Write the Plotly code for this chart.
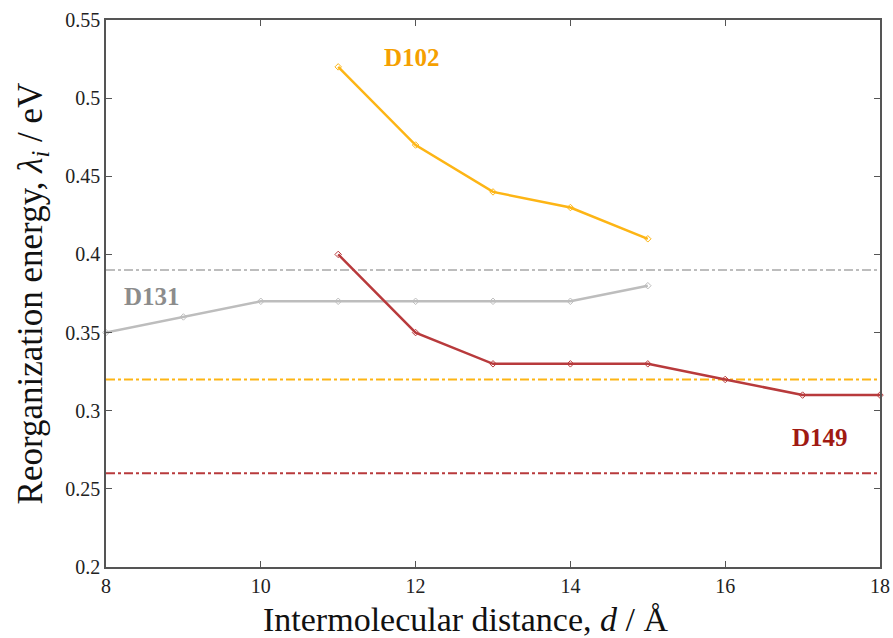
import plotly.graph_objects as go

d102_x = [11, 12, 13, 14, 15]
d102_y = [0.52, 0.47, 0.44, 0.43, 0.41]
d131_x = [8, 9, 10, 11, 12, 13, 14, 15]
d131_y = [0.35, 0.36, 0.37, 0.37, 0.37, 0.37, 0.37, 0.38]
d149_x = [11, 12, 13, 14, 15, 16, 17, 18]
d149_y = [0.40, 0.35, 0.33, 0.33, 0.33, 0.32, 0.31, 0.31]
ref_levels = {"D131": 0.39, "D102": 0.32, "D149": 0.26}
x_ticks = [8, 10, 12, 14, 16, 18]
y_ticks = [0.2, 0.25, 0.3, 0.35, 0.4, 0.45, 0.5, 0.55]

c102, c131, c149 = "#FDB515", "#BDBDBD", "#B83A3C"
t102, t131, t149 = "#F5A000", "#8C8C8C", "#A01A12"

fig = go.Figure()
for name, col in [("D131", c131), ("D102", c102), ("D149", c149)]:
    fig.add_trace(go.Scatter(x=[8, 18], y=[ref_levels[name]] * 2, mode="lines",
                             line=dict(color=col, width=2, dash="dashdot"), showlegend=False))
for xs, ys, col in [(d131_x, d131_y, c131), (d102_x, d102_y, c102), (d149_x, d149_y, c149)]:
    fig.add_trace(go.Scatter(x=xs, y=ys, mode="lines+markers",
                             line=dict(color=col, width=2.5),
                             marker=dict(symbol="diamond-open", size=5, color=col, line=dict(width=1)),
                             showlegend=False, cliponaxis=False))

fig.add_annotation(x=11.95, y=0.526, text="<b>D102</b>",
                   font=dict(family="Liberation Serif", size=25, color=t102), showarrow=False)
fig.add_annotation(x=8.6, y=0.373, text="<b>D131</b>",
                   font=dict(family="Liberation Serif", size=25, color=t131), showarrow=False)
fig.add_annotation(x=17.22, y=0.283, text="<b>D149</b>",
                   font=dict(family="Liberation Serif", size=25, color=t149), showarrow=False)

# x-axis title (placed slightly left of centre as in the reference)
fig.add_annotation(xref="paper", yref="paper", x=0.464, y=-0.096, xanchor="center", yanchor="middle",
                   text="Intermolecular distance, <i>d</i> / Å", showarrow=False,
                   font=dict(family="Liberation Serif", size=34, color="#111111"))

axis_common = dict(showline=True, linecolor="#555555", linewidth=1.5, mirror="allticks",
                   ticks="inside", ticklen=6, tickcolor="#555555", showgrid=False, zeroline=False,
                   automargin=False,
                   tickfont=dict(family="Liberation Serif", size=20, color="#222222"))
fig.update_xaxes(range=[8, 18], tickvals=x_ticks, ticktext=[str(v) for v in x_ticks], **axis_common)
fig.update_yaxes(range=[0.2, 0.55], tickvals=y_ticks, ticktext=[f"{v:g}" for v in y_ticks],
                 title=dict(text="Reorganization energy, <i>λ<sub>i</sub></i> / eV",
                            font=dict(family="Liberation Serif", size=35, color="#111111"), standoff=12),
                 **axis_common)
fig.update_layout(width=893, height=638, margin=dict(l=106, r=13, t=20, b=71),
                  plot_bgcolor="white", paper_bgcolor="white")
fig.write_html("out.html", config={"displayModeBar": False},
               post_script="document.body.style.margin='0px';")
